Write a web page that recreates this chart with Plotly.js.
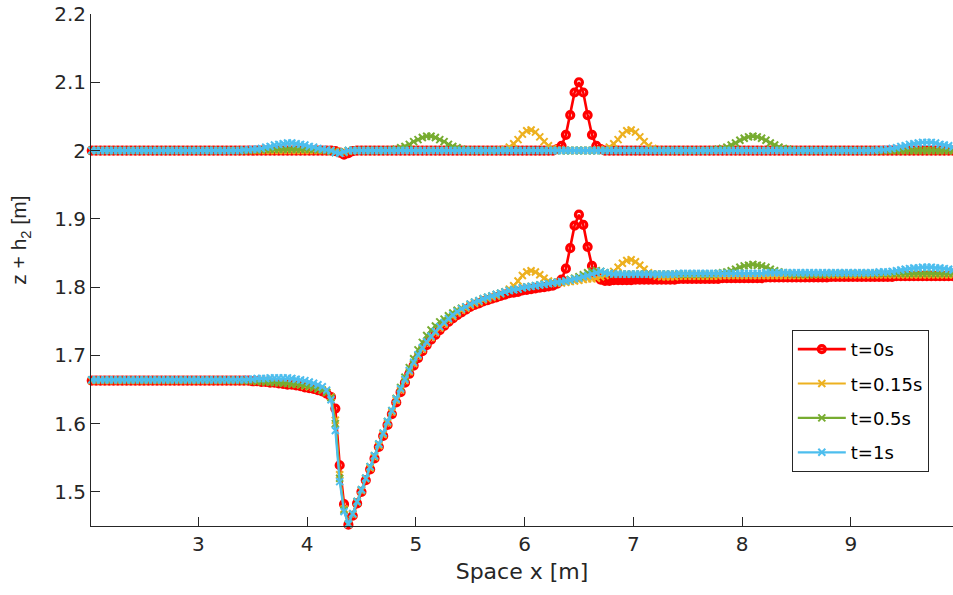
<!DOCTYPE html>
<html>
<head>
<meta charset="utf-8">
<script src="https://cdn.plot.ly/plotly-3.0.1.min.js"></script>
<style>html,body{margin:0;padding:0;background:#fff;}#chart{width:953px;height:595px;}</style>
</head>
<body>
<div id="chart"></div>
<script>
// Sample positions along x [m]
const X = [
2.02,2.06,2.10,2.14,2.18,2.22,2.26,2.30,2.34,2.38,
2.42,2.46,2.50,2.54,2.58,2.62,2.66,2.70,2.74,2.78,
2.82,2.86,2.90,2.94,2.98,3.02,3.06,3.10,3.14,3.18,
3.22,3.26,3.30,3.34,3.38,3.42,3.46,3.50,3.54,3.58,
3.62,3.66,3.70,3.74,3.78,3.82,3.86,3.90,3.94,3.98,
4.02,4.06,4.10,4.14,4.18,4.22,4.26,4.30,4.34,4.38,
4.42,4.46,4.50,4.54,4.58,4.62,4.66,4.70,4.74,4.78,
4.82,4.86,4.90,4.94,4.98,5.02,5.06,5.10,5.14,5.18,
5.22,5.26,5.30,5.34,5.38,5.42,5.46,5.50,5.54,5.58,
5.62,5.66,5.70,5.74,5.78,5.82,5.86,5.90,5.94,5.98,
6.02,6.06,6.10,6.14,6.18,6.22,6.26,6.30,6.34,6.38,
6.42,6.46,6.50,6.54,6.58,6.62,6.66,6.70,6.74,6.78,
6.82,6.86,6.90,6.94,6.98,7.02,7.06,7.10,7.14,7.18,
7.22,7.26,7.30,7.34,7.38,7.42,7.46,7.50,7.54,7.58,
7.62,7.66,7.70,7.74,7.78,7.82,7.86,7.90,7.94,7.98,
8.02,8.06,8.10,8.14,8.18,8.22,8.26,8.30,8.34,8.38,
8.42,8.46,8.50,8.54,8.58,8.62,8.66,8.70,8.74,8.78,
8.82,8.86,8.90,8.94,8.98,9.02,9.06,9.10,9.14,9.18,
9.22,9.26,9.30,9.34,9.38,9.42,9.46,9.50,9.54,9.58,
9.62,9.66,9.70,9.74,9.78,9.82,9.86,9.90,9.94,9.98];

// Upper surface (around z + h2 = 2)
const surf_t0 = [
2,2,2,2,2,2,2,2,2,2,
2,2,2,2,2,2,2,2,2,2,
2,2,2,2,2,2,2,2,2,2,
2,2,2,2,2,2,2,2,2,2,
2,2,2,2,2,2,2,2,2,2,
2,2,2,2,2,2,1.999,1.997,1.994,1.996,
1.999,2,2,2,2,2,2,2,2,2,
2,2,2,2,2,2,2,2,2,2,
2,2,2,2,2,2,2,2,2,2,
2,2,2,2,2,2,2,2,2,2,
2,2,2,2,2,2,2,2.002,2.007,2.023,
2.052,2.085,2.1,2.085,2.052,2.023,2.007,2.002,2,2,
2,2,2,2,2,2,2,2,2,2,
2,2,2,2,2,2,2,2,2,2,
2,2,2,2,2,2,2,2,2,2,
2,2,2,2,2,2,2,2,2,2,
2,2,2,2,2,2,2,2,2,2,
2,2,2,2,2,2,2,2,2,2,
2,2,2,2,2,2,2,2,2,2,
2,2,2,2,2,2,2,2,2,2];

const surf_t015 = [
2,2,2,2,2,2,2,2,2,2,
2,2,2,2,2,2,2,2,2,2,
2,2,2,2,2,2,2,2,2,2,
2,2,2,2,2,2,2,2,2,2,
2,2,2,2,2,2,2,2,2,2,
2,2,2,2,2,2,1.999,1.998,1.997,1.999,
2,2,2,2,2,2,2,2,2,2,
2,2,2,2,2,2,2,2,2,2,
2,2,2,2,2,2,2,2,2,2,
2,2,2,2,2.001,2.002,2.005,2.010,2.016,2.024,
2.029,2.030,2.027,2.020,2.013,2.007,2.003,2.001,2,2,
2,2,2,2,2,2,2,2.001,2.002,2.005,
2.010,2.016,2.024,2.029,2.030,2.027,2.020,2.013,2.007,2.003,
2.001,2,2,2,2,2,2,2,2,2,
2,2,2,2,2,2,2,2,2,2,
2,2,2,2,2,2,2,2,2,2,
2,2,2,2,2,2,2,2,2,2,
2,2,2,2,2,2,2,2,2,2,
2,2,2,2,2,2,2,2,2,2,
2,2,2,2,2,2,2,2,2,2];

const surf_t05 = [
2,2,2,2,2,2,2,2,2,2,
2,2,2,2,2,2,2,2,2,2,
2,2,2,2,2,2,2,2,2,2,
2,2,2,2,2,2,2,2.001,2.001,2.001,
2.002,2.002,2.002,2.002,2.002,2.002,2.002,2.002,2.002,2.002,
2.002,2.002,2.001,2.001,2,1.999,1.997,1.997,1.998,2,
2,2,2,2,2,2,2,2,2,2.001,
2.002,2.004,2.006,2.009,2.013,2.016,2.019,2.021,2.021,2.019,
2.016,2.013,2.009,2.006,2.004,2.002,2.001,2,2,2,
2,2,2,2,2,2,2,2,2,2,
2,2,2,2,2,2,2,2,2,2,
2,2,2,2,2,2,2,2,2,2,
2,2,2,2,2,2,2,2,2,2,
2,2,2,2,2,2,2,2,2,2,
2,2,2,2.001,2.002,2.003,2.005,2.008,2.011,2.015,
2.018,2.020,2.021,2.020,2.018,2.015,2.011,2.008,2.005,2.003,
2.002,2.001,2,2,2,2,2,2,2,2,
2,2,2,2,2,2,2,2,2,2,
2,2,2,2,2,2,2,2,2,2,
2,2,2,2,2,2,2,2,2,2];

const surf_t1 = [
2,2,2,2,2,2,2,2,2,2,
2,2,2,2,2,2,2,2,2,2,
2,2,2,2,2,2,2,2,2,2,
2,2,2,2,2,2.001,2.001,2.002,2.002,2.003,
2.005,2.006,2.008,2.009,2.010,2.011,2.011,2.010,2.009,2.008,
2.006,2.005,2.003,2.002,2.001,2,1.997,1.996,1.998,2,
2,2,2,2,2,2,2,2,2,2,
2,2,2,2,2,2,2,2,2,2,
2,2,2,2,2,2,2,2,2,2,
2,2,2,2,2,2,2,2,2,2,
2,2,2,2,2,2,2,2,2,2,
2,2,2,2,2,2,2,2,2,2,
2,2,2,2,2,2,2,2,2,2,
2,2,2,2,2,2,2,2,2,2,
2,2,2,2,2,2,2,2,2,2,
2,2,2,2,2,2,2,2,2,2,
2,2,2,2,2,2,2,2,2,2,
2,2,2,2,2,2,2,2,2,2,
2,2.001,2.001,2.002,2.003,2.004,2.006,2.007,2.009,2.010,
2.011,2.012,2.012,2.012,2.011,2.009,2.008,2.007,2.005,2.004];

// Lower interface
const intf_t0 = [
1.663,1.663,1.663,1.663,1.663,1.663,1.663,1.663,1.663,1.663,
1.663,1.663,1.663,1.663,1.663,1.663,1.663,1.663,1.663,1.663,
1.663,1.663,1.663,1.663,1.663,1.663,1.663,1.663,1.663,1.663,
1.663,1.663,1.663,1.663,1.663,1.663,1.663,1.662,1.662,1.661,
1.661,1.660,1.660,1.659,1.658,1.657,1.657,1.656,1.655,1.653,
1.652,1.651,1.649,1.647,1.644,1.639,1.622,1.539,1.482,1.452,
1.465,1.483,1.500,1.517,1.533,1.549,1.566,1.582,1.598,1.614,
1.631,1.646,1.660,1.673,1.685,1.696,1.706,1.715,1.723,1.730,
1.737,1.743,1.749,1.754,1.759,1.763,1.767,1.771,1.774,1.776,
1.779,1.781,1.783,1.785,1.787,1.789,1.791,1.792,1.793,1.795,
1.796,1.797,1.798,1.799,1.800,1.801,1.802,1.805,1.811,1.827,
1.857,1.890,1.906,1.891,1.859,1.831,1.816,1.811,1.809,1.809,
1.810,1.810,1.810,1.810,1.810,1.811,1.811,1.811,1.811,1.811,
1.811,1.811,1.811,1.811,1.811,1.812,1.812,1.812,1.812,1.812,
1.812,1.812,1.812,1.812,1.812,1.813,1.813,1.813,1.813,1.813,
1.813,1.813,1.813,1.813,1.813,1.814,1.814,1.814,1.814,1.814,
1.814,1.814,1.814,1.814,1.814,1.814,1.814,1.814,1.814,1.814,
1.815,1.815,1.815,1.815,1.815,1.815,1.815,1.815,1.815,1.815,
1.815,1.815,1.815,1.815,1.815,1.816,1.816,1.816,1.816,1.816,
1.816,1.816,1.816,1.816,1.816,1.816,1.816,1.816,1.816,1.816];

const intf_t015 = [
1.663,1.663,1.663,1.663,1.663,1.663,1.663,1.663,1.663,1.663,
1.663,1.663,1.663,1.663,1.663,1.663,1.663,1.663,1.663,1.663,
1.663,1.663,1.663,1.663,1.663,1.663,1.663,1.663,1.663,1.663,
1.663,1.663,1.663,1.663,1.663,1.663,1.663,1.663,1.662,1.662,
1.662,1.661,1.661,1.660,1.660,1.659,1.658,1.658,1.657,1.655,
1.654,1.653,1.651,1.649,1.646,1.639,1.605,1.525,1.475,1.453,
1.467,1.485,1.502,1.519,1.535,1.551,1.568,1.584,1.601,1.617,
1.634,1.649,1.663,1.676,1.688,1.699,1.709,1.718,1.726,1.733,
1.740,1.746,1.752,1.757,1.762,1.766,1.769,1.773,1.776,1.778,
1.781,1.783,1.785,1.787,1.790,1.793,1.797,1.802,1.809,1.817,
1.822,1.824,1.822,1.818,1.813,1.809,1.807,1.806,1.806,1.807,
1.808,1.809,1.810,1.811,1.812,1.812,1.813,1.815,1.817,1.819,
1.823,1.829,1.835,1.839,1.840,1.837,1.832,1.826,1.821,1.818,
1.816,1.815,1.815,1.815,1.815,1.816,1.816,1.816,1.816,1.816,
1.816,1.816,1.816,1.816,1.816,1.817,1.817,1.817,1.817,1.817,
1.817,1.817,1.817,1.817,1.817,1.817,1.817,1.817,1.817,1.817,
1.817,1.817,1.817,1.817,1.817,1.818,1.818,1.818,1.818,1.818,
1.818,1.818,1.818,1.818,1.818,1.818,1.818,1.818,1.818,1.818,
1.818,1.818,1.818,1.818,1.818,1.818,1.818,1.818,1.818,1.818,
1.818,1.818,1.818,1.818,1.818,1.818,1.818,1.818,1.818,1.818];

const intf_t05 = [
1.664,1.664,1.664,1.664,1.664,1.664,1.664,1.664,1.664,1.664,
1.664,1.664,1.664,1.664,1.664,1.664,1.664,1.664,1.664,1.664,
1.664,1.664,1.664,1.664,1.664,1.664,1.664,1.664,1.664,1.664,
1.664,1.664,1.664,1.664,1.664,1.663,1.663,1.663,1.662,1.662,
1.661,1.661,1.660,1.660,1.659,1.659,1.658,1.658,1.657,1.656,
1.655,1.653,1.651,1.649,1.646,1.638,1.600,1.520,1.473,1.453,
1.468,1.486,1.503,1.520,1.537,1.553,1.570,1.586,1.603,1.619,
1.637,1.653,1.668,1.682,1.695,1.708,1.719,1.729,1.737,1.743,
1.749,1.753,1.758,1.762,1.766,1.769,1.771,1.775,1.778,1.780,
1.783,1.785,1.787,1.789,1.791,1.793,1.795,1.796,1.797,1.799,
1.800,1.801,1.802,1.803,1.804,1.805,1.806,1.807,1.808,1.809,
1.811,1.813,1.815,1.818,1.821,1.823,1.824,1.823,1.821,1.820,
1.819,1.819,1.819,1.819,1.819,1.819,1.819,1.819,1.819,1.819,
1.819,1.819,1.819,1.819,1.819,1.819,1.819,1.819,1.819,1.819,
1.819,1.819,1.819,1.819,1.820,1.821,1.822,1.824,1.826,1.829,
1.831,1.832,1.833,1.832,1.831,1.829,1.826,1.824,1.822,1.821,
1.820,1.819,1.819,1.819,1.819,1.819,1.819,1.819,1.819,1.819,
1.820,1.820,1.820,1.820,1.820,1.820,1.820,1.820,1.820,1.820,
1.820,1.820,1.820,1.820,1.820,1.820,1.820,1.820,1.820,1.820,
1.820,1.820,1.820,1.820,1.820,1.820,1.820,1.820,1.820,1.820];

const intf_t1 = [
1.664,1.664,1.664,1.664,1.664,1.664,1.664,1.664,1.664,1.664,
1.664,1.664,1.664,1.664,1.664,1.664,1.664,1.664,1.664,1.664,
1.664,1.664,1.664,1.664,1.664,1.664,1.664,1.664,1.664,1.664,
1.664,1.664,1.664,1.664,1.664,1.664,1.665,1.665,1.666,1.666,
1.666,1.667,1.667,1.667,1.667,1.667,1.666,1.665,1.664,1.663,
1.661,1.659,1.657,1.654,1.649,1.635,1.590,1.515,1.471,1.453,
1.468,1.486,1.503,1.520,1.537,1.553,1.570,1.586,1.603,1.619,
1.636,1.651,1.665,1.678,1.690,1.701,1.711,1.720,1.728,1.735,
1.742,1.748,1.754,1.759,1.764,1.768,1.771,1.775,1.778,1.780,
1.783,1.785,1.787,1.789,1.791,1.793,1.795,1.796,1.797,1.799,
1.800,1.801,1.802,1.803,1.804,1.805,1.806,1.807,1.808,1.809,
1.810,1.812,1.813,1.815,1.817,1.819,1.821,1.823,1.821,1.820,
1.819,1.819,1.819,1.819,1.819,1.819,1.819,1.819,1.819,1.819,
1.819,1.819,1.819,1.819,1.819,1.820,1.820,1.820,1.820,1.820,
1.820,1.820,1.820,1.820,1.820,1.820,1.820,1.820,1.820,1.820,
1.820,1.820,1.820,1.820,1.820,1.821,1.821,1.821,1.821,1.821,
1.821,1.821,1.821,1.821,1.821,1.821,1.821,1.821,1.821,1.821,
1.821,1.821,1.821,1.821,1.821,1.821,1.821,1.821,1.821,1.821,
1.821,1.822,1.822,1.822,1.823,1.824,1.825,1.826,1.827,1.828,
1.828,1.829,1.829,1.829,1.828,1.828,1.827,1.826,1.825,1.824];

const seriesNames = ['t=0s', 't=0.15s', 't=0.5s', 't=1s'];
const seriesColors = ['#FF0000', '#EDB120', '#77AC30', '#4DBEEE'];
const surfaces = [surf_t0, surf_t015, surf_t05, surf_t1];
const interfaces = [intf_t0, intf_t015, intf_t05, intf_t1];

const yTickVals = [1.5, 1.6, 1.7, 1.8, 1.9, 2.0, 2.1, 2.2];
const yTickText = ['1.5', '1.6', '1.7', '1.8', '1.9', '2', '2.1', '2.2'];
const xTickVals = [3, 4, 5, 6, 7, 8, 9];
const xTickText = ['3', '4', '5', '6', '7', '8', '9'];
const xTitle = 'Space x [m]';
const yTitle = 'z + h<sub>2</sub> [m]';

const FONT = 'DejaVu Sans, Arial, sans-serif';
const FONT_Y = 'Liberation Sans, Arial, sans-serif';
const AX = '#262626';

const traces = seriesNames.map((name, k) => {
  const col = seriesColors[k];
  const marker = k === 0
    ? {symbol: 'circle-open', size: 7, color: col, line: {width: 3.2, color: col}}
    : {symbol: 'x-thin', size: 7, color: col, line: {width: 2, color: col}};
  return {
    type: 'scatter',
    mode: 'lines+markers',
    name: name,
    legendgroup: 'g' + k,
    x: X.concat([null], X),
    y: surfaces[k].concat([null], interfaces[k]),
    connectgaps: false,
    line: {color: col, width: k === 0 ? 2.6 : 2.2},
    marker: marker,
    cliponaxis: false,
    hoverinfo: 'skip'
  };
});

const layout = {
  width: 953,
  height: 595,
  margin: {l: 91, r: 0, t: 14, b: 69},
  paper_bgcolor: '#ffffff',
  plot_bgcolor: '#ffffff',
  showlegend: true,
  font: {family: FONT, color: AX, size: 20},
  xaxis: {
    range: [2.013, 9.94],
    tickvals: xTickVals,
    ticktext: xTickText,
    ticks: 'inside',
    ticklen: 9,
    tickwidth: 1,
    tickcolor: AX,
    showline: true,
    linecolor: AX,
    linewidth: 1,
    showgrid: false,
    zeroline: false,
    mirror: false,
    tickfont: {family: FONT, size: 20, color: AX},
    title: {text: xTitle, font: {family: FONT, size: 22, color: AX}, standoff: 8}
  },
  yaxis: {
    range: [1.45, 2.2],
    tickvals: yTickVals,
    ticktext: yTickText,
    ticks: 'inside',
    ticklen: 9,
    tickwidth: 1,
    tickcolor: AX,
    showline: true,
    linecolor: AX,
    linewidth: 1,
    showgrid: false,
    zeroline: false,
    mirror: false,
    tickfont: {family: FONT, size: 20, color: AX}
  },
  annotations: [{
    text: yTitle,
    xref: 'paper', yref: 'paper',
    x: -0.0824, y: 0.559,
    xanchor: 'center', yanchor: 'middle',
    textangle: -90,
    showarrow: false,
    font: {family: FONT_Y, size: 21, color: AX}
  }],
  legend: {
    x: 0.813,
    y: 0.383,
    xanchor: 'left',
    yanchor: 'top',
    bgcolor: '#ffffff',
    bordercolor: AX,
    borderwidth: 1,
    font: {family: FONT, size: 18, color: '#000000'},
    traceorder: 'grouped',
    tracegroupgap: 8,
    itemwidth: 48
  }
};

Plotly.newPlot('chart', traces, layout, {staticPlot: true, displayModeBar: false});
</script>
</body>
</html>
